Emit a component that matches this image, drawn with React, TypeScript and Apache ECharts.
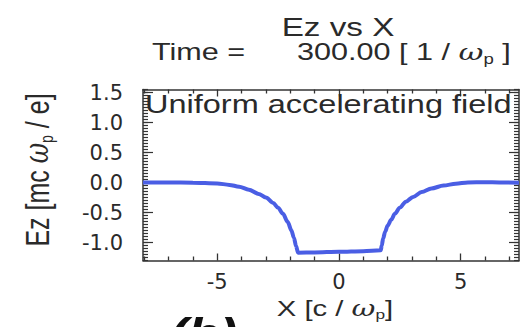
import React, { useEffect, useRef } from 'react';
import * as echarts from 'echarts';

// Longitudinal field Ez sampled along X (c / ω_p) at t = 300 / ω_p
const X_POS = [
  -8.05, -7, -6, -5, -4.5, -4.1, -3.7, -3.3, -3.0, -2.7, -2.5, -2.3, -2.1, -1.95, -1.85, -1.76, -1.68,
  -1.0, 0, 1.0, 1.72,
  1.76, 1.82, 1.9, 2.0, 2.15, 2.3, 2.5, 2.75, 3.05, 3.4, 3.8, 4.3, 4.8, 5.3, 6.0, 6.6, 7.4,
];
const EZ = [
  0.0, 0.0, -0.003, -0.015, -0.04, -0.07, -0.12, -0.19, -0.25, -0.34, -0.42, -0.52, -0.66, -0.8, -0.92, -1.06, -1.17,
  -1.165, -1.155, -1.145, -1.13,
  -1.05, -0.93, -0.82, -0.72, -0.62, -0.52, -0.42, -0.32, -0.24, -0.16, -0.1, -0.05, -0.02, 0.0, 0.005, 0.0, -0.005,
];

const X_MAJOR = [-5, 0, 5];
const X_MINOR = [-8, -7, -6, -4, -3, -2, -1, 1, 2, 3, 4, 6, 7];
const Y_MAJOR = [-1.0, -0.5, 0.0, 0.5, 1.0, 1.5];
const Y_MINOR_STEP = 0.05;

const X_RANGE = [-8.05, 7.4];
const Y_RANGE = [-1.3, 1.55];

const INK = '#2a2a2a';
const LINE_BLUE = '#4a5ee4';
const SANS = '"Liberation Sans", Arial, sans-serif';

function minorYTicks(): number[] {
  const out: number[] = [];
  const n = Math.round((Y_RANGE[1] - Y_RANGE[0]) / Y_MINOR_STEP);
  for (let i = 0; i <= n; i++) {
    out.push(Math.round((Y_RANGE[0] + i * Y_MINOR_STEP) * 100) / 100);
  }
  return out;
}

export default function App() {
  const ref = useRef<HTMLDivElement>(null);

  useEffect(() => {
    if (!ref.current) return;
    const chart = echarts.init(ref.current, undefined, { renderer: 'svg' });
    const frame = { show: true, onZero: false, lineStyle: { color: '#333', width: 1.5 } };
    const noLine = { show: false, onZero: false };
    const noLabel = { show: false };

    const xAxis = (position: 'top' | 'bottom', ticks: number[], len: number, labels: boolean, line: boolean) => ({
      type: 'value',
      position,
      min: X_RANGE[0],
      max: X_RANGE[1],
      axisLine: line ? frame : noLine,
      axisTick: { show: true, inside: true, length: len, customValues: ticks, lineStyle: { color: '#333', width: 1.3 } },
      axisLabel: labels
        ? {
            customValues: X_MAJOR,
            fontSize: 21,
            fontFamily: '"DejaVu Sans", sans-serif',
            color: INK,
            margin: 11,
            formatter: (v: number) => String(v),
          }
        : noLabel,
      splitLine: { show: false },
    });

    const yAxis = (position: 'left' | 'right', ticks: number[], len: number, labels: boolean, line: boolean) => ({
      type: 'value',
      position,
      min: Y_RANGE[0],
      max: Y_RANGE[1],
      axisLine: line ? frame : noLine,
      axisTick: { show: true, inside: true, length: len, customValues: ticks, lineStyle: { color: '#333', width: 1.2 } },
      axisLabel: labels
        ? {
            customValues: Y_MAJOR,
            fontSize: 21,
            fontFamily: '"DejaVu Sans", sans-serif',
            color: INK,
            margin: 20,
            formatter: (v: number) => v.toFixed(1),
          }
        : noLabel,
      splitLine: { show: false },
    });

    const yMinor = minorYTicks();

    chart.setOption({
      animation: false,
      backgroundColor: '#ffffff',
      grid: { left: 143, top: 89.5, width: 376, height: 171 },
      xAxis: [
        xAxis('bottom', X_MAJOR, 7, true, true),
        xAxis('bottom', X_MINOR, 4, false, false),
        xAxis('top', X_MAJOR, 7, false, true),
        xAxis('top', X_MINOR, 4, false, false),
      ],
      yAxis: [
        yAxis('left', Y_MAJOR, 10, true, true),
        yAxis('left', yMinor, 5, false, false),
        yAxis('right', Y_MAJOR, 10, false, true),
        yAxis('right', yMinor, 5, false, false),
      ],
      series: [
        {
          type: 'line',
          xAxisIndex: 0,
          yAxisIndex: 0,
          data: X_POS.map((x, i) => [x, EZ[i]]),
          showSymbol: false,
          smooth: 0.3,
          smoothMonotone: 'x',
          lineStyle: { color: LINE_BLUE, width: 4 },
          z: 3,
        },
      ],
      graphic: [
        {
          type: 'text',
          x: 338,
          y: 27,
          scaleX: 1.33,
          style: { text: 'Ez vs X', fontSize: 25, fontFamily: SANS, fill: INK, align: 'center', verticalAlign: 'middle' },
        },
        {
          type: 'text',
          x: 152,
          y: 52,
          scaleX: 1.33,
          style: { text: 'Time =', fontSize: 23, fontFamily: SANS, fill: INK, align: 'left', verticalAlign: 'middle' },
        },
        {
          type: 'text',
          x: 297,
          y: 52,
          scaleX: 1.33,
          style: {
            text: '{a|300.00 [ 1 / }{w|ω}{s|p}{a| ]}',
            fontSize: 23,
            fontFamily: SANS,
            fill: INK,
            align: 'left',
            verticalAlign: 'middle',
            rich: {
              a: { fontSize: 23, fontFamily: SANS, fill: INK, lineHeight: 28 },
              w: { fontSize: 23, fontFamily: '"DejaVu Serif", serif', fontStyle: 'italic', fill: INK, lineHeight: 28 },
              s: { fontSize: 14, fontFamily: SANS, fill: INK, verticalAlign: 'bottom', lineHeight: 14 },
            },
          },
        },
        {
          type: 'text',
          x: 145,
          y: 117,
          scaleX: 1.3,
          z: 1,
          style: {
            text: 'Uniform accelerating field',
            fontSize: 25,
            fontFamily: SANS,
            fill: INK,
            align: 'left',
            verticalAlign: 'bottom',
          },
        },
        {
          type: 'text',
          x: 335,
          y: 308,
          scaleX: 1.33,
          style: {
            text: '{a|X [c / }{w|ω}{s|p}{a|]}',
            fontSize: 22,
            fontFamily: SANS,
            fill: INK,
            align: 'center',
            verticalAlign: 'middle',
            rich: {
              a: { fontSize: 22, fontFamily: SANS, fill: INK, lineHeight: 26 },
              w: { fontSize: 22, fontFamily: '"DejaVu Serif", serif', fontStyle: 'italic', fill: INK, lineHeight: 26 },
              s: { fontSize: 13, fontFamily: SANS, fill: INK, verticalAlign: 'bottom', lineHeight: 13 },
            },
          },
        },
        {
          type: 'text',
          x: 37,
          y: 170,
          rotation: Math.PI / 2,
          scaleY: 1.33,
          style: {
            text: '{a|Ez [mc }{w|ω}{s|p}{a| / e]}',
            fontSize: 25,
            fontFamily: SANS,
            fill: INK,
            align: 'center',
            verticalAlign: 'middle',
            rich: {
              a: { fontSize: 25, fontFamily: SANS, fill: INK, lineHeight: 28 },
              w: { fontSize: 25, fontFamily: '"DejaVu Serif", serif', fontStyle: 'italic', fill: INK, lineHeight: 28 },
              s: { fontSize: 14, fontFamily: SANS, fill: INK, verticalAlign: 'bottom', lineHeight: 14 },
            },
          },
        },
        {
          type: 'text',
          x: 170,
          y: 312,
          scaleX: 1.2,
          style: {
            text: '(b)',
            fontSize: 44,
            fontWeight: 'bold',
            fontStyle: 'italic',
            fontFamily: SANS,
            fill: '#111',
            align: 'left',
            verticalAlign: 'top',
          },
        },
      ],
    });
    return () => chart.dispose();
  }, []);

  return <div ref={ref} style={{ position: 'absolute', left: 0, top: 0, width: 528, height: 327 }} />;
}
